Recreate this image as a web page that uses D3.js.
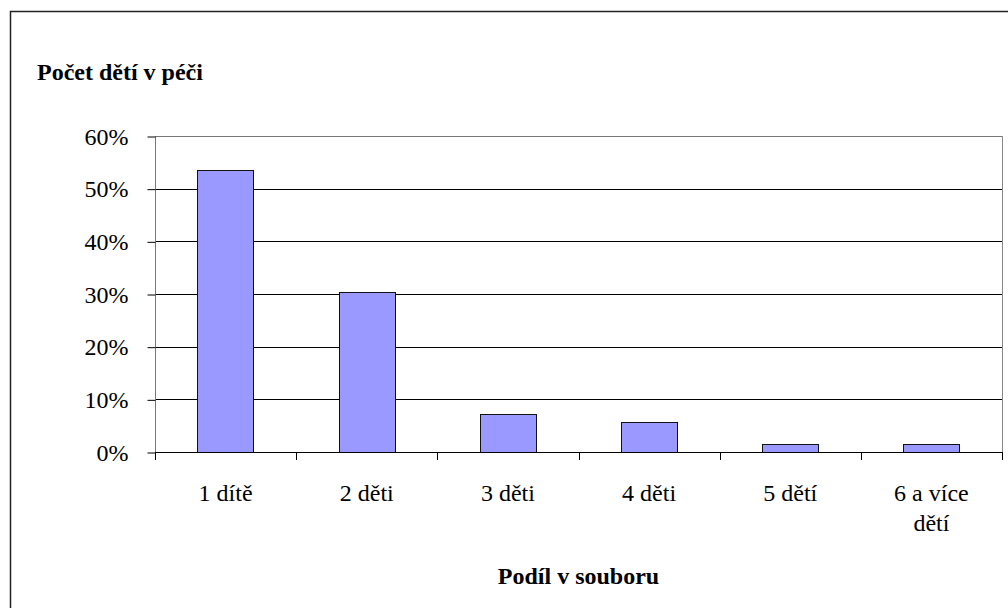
<!DOCTYPE html>
<html><head><meta charset="utf-8">
<script src="https://cdn.jsdelivr.net/npm/d3@7"></script>
<style>
body{margin:0;background:#fff}
svg{display:block}
svg text, svg tspan { font-family: "Liberation Serif", Tinos, "Times New Roman", Times !important; }
</style>
</head><body>
<script>
const categories = [["1 dítě"], ["2 děti"], ["3 děti"], ["4 děti"], ["5 dětí"], ["6 a více", "dětí"]];
const values = [0.535, 0.303, 0.072, 0.057, 0.015, 0.015];
const yTicks = [0, 0.1, 0.2, 0.3, 0.4, 0.5, 0.6];
const chartTitle = "Počet dětí v péči";
const xTitle = "Podíl v souboru";

(function () {
const FONT = "Liberation Serif";
const W = 1008, H = 608;
const svg = d3.select("body").append("svg").attr("width", W).attr("height", H)
  .attr("font-family", FONT);
svg.append("rect").attr("width", W).attr("height", H).attr("fill", "#fff");
svg.append("rect").attr("x", 10.5).attr("y", 11.5).attr("width", 1200).attr("height", 900)
  .attr("fill", "none").attr("stroke", "#222").attr("stroke-width", 1.5);

const pL = 155, pR = 1002, pT = 136, pB = 452;
const keys = categories.map((c, i) => i);
const x = d3.scaleBand().domain(keys).range([pL, pR]).padding(0);
const y = d3.scaleLinear().domain([0, 0.6]).range([pB, pT]);

// gridlines
svg.append("g").selectAll("line").data(yTicks.filter(t => t > 0)).join("line")
  .attr("x1", pL).attr("x2", pR)
  .attr("y1", d => Math.round(y(d)) + 0.5).attr("y2", d => Math.round(y(d)) + 0.5)
  .attr("stroke", d => d === 0.6 ? "#777" : "#000").attr("stroke-width", 1);
// plot right border
svg.append("line").attr("x1", pR + 0.5).attr("x2", pR + 0.5).attr("y1", pT).attr("y2", pB)
  .attr("stroke", "#888");

// bars
const bw = x.bandwidth() * 0.4;
svg.append("g").selectAll("rect").data(values).join("rect")
  .attr("x", (d, i) => Math.round(x(i) + (x.bandwidth() - bw) / 2) + 0.5)
  .attr("width", Math.round(bw))
  .attr("y", d => Math.round(y(d)) + 0.5)
  .attr("height", d => Math.round(pB - y(d)))
  .attr("fill", "#9999FF").attr("stroke", "#111").attr("stroke-width", 1);

// y axis
const yAxis = d3.axisLeft(y).tickValues(yTicks).tickFormat(d3.format(".0%")).tickSize(8).tickPadding(19);
const gy = svg.append("g").attr("transform", `translate(${pL + 0.5},0.5)`).call(yAxis);
gy.attr("font-family", FONT).attr("font-size", 24);
gy.select(".domain").attr("stroke", "#777").attr("d", `M0,${pT}V${pB}`);
gy.selectAll(".tick line").attr("stroke", "#000");
gy.selectAll(".tick text").attr("font-family", FONT).attr("font-size", 24).attr("fill", "#000");

// x axis line and ticks at category boundaries
svg.append("line").attr("x1", pL).attr("x2", pR).attr("y1", pB + 0.5).attr("y2", pB + 0.5)
  .attr("stroke", "#000");
const bounds = keys.map(k => x(k)).concat([pR]);
svg.append("g").selectAll("line").data(bounds).join("line")
  .attr("x1", d => Math.round(d) + 0.5).attr("x2", d => Math.round(d) + 0.5)
  .attr("y1", pB).attr("y2", pB + 8).attr("stroke", "#000");

// x labels
const xl = svg.append("g").selectAll("text").data(categories).join("text")
  .attr("x", (d, i) => x(i) + x.bandwidth() / 2).attr("y", 501)
  .attr("text-anchor", "middle").attr("font-family", FONT).attr("font-size", 24);
xl.selectAll("tspan").data(d => d).join("tspan")
  .attr("x", function () { return this.parentNode.getAttribute("x"); })
  .attr("dy", (d, i) => i === 0 ? 0 : 30).text(d => d);

// titles
svg.append("text").attr("x", 37).attr("y", 80).attr("font-family", FONT).attr("font-size", 24)
  .attr("font-weight", "bold").text(chartTitle);
svg.append("text").attr("x", (pL + pR) / 2).attr("y", 584).attr("text-anchor", "middle")
  .attr("font-family", FONT).attr("font-size", 24).attr("font-weight", "bold").text(xTitle);
})();
</script>
</body></html>
